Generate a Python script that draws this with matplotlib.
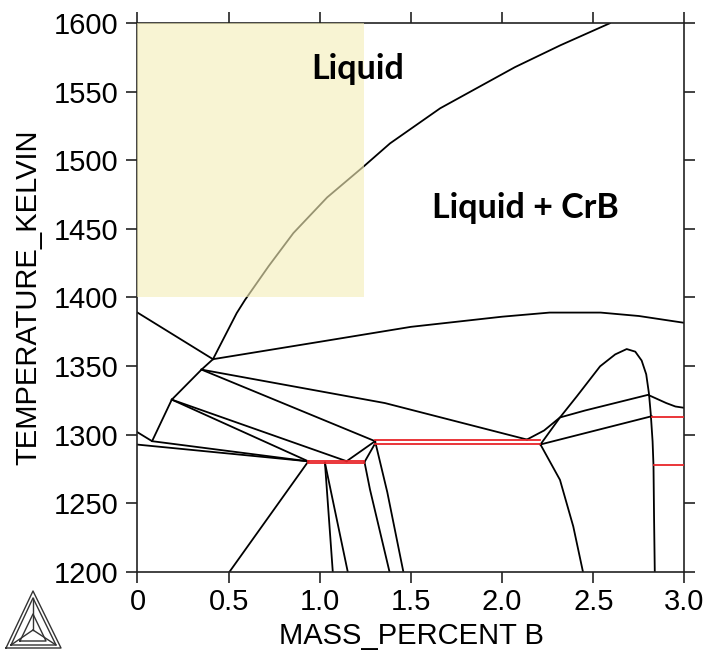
import matplotlib
matplotlib.use('Agg')
import matplotlib.pyplot as plt
from matplotlib.lines import Line2D
from matplotlib.patches import Rectangle

plt.rcParams['font.family'] = ['Liberation Sans', 'DejaVu Sans']

# ---- phase boundaries: mass percent B vs temperature (K) ----
# liquidus chain from left edge up to the top
liq_x = [0.0, 0.08, 0.188, 0.351, 0.414, 0.544, 0.59, 0.72, 0.855, 1.04, 1.239, 1.385, 1.66, 2.07, 2.32, 2.59]
liq_t = [1301.7, 1295.2, 1325.5, 1347.4, 1355, 1388.6, 1398.3, 1423, 1447, 1473, 1495.4, 1512.4, 1538, 1568, 1584, 1600]

top_left_x = [0.0, 0.414]
top_left_t = [1389, 1355]

upper_x = [0.414, 1.0, 1.5, 2.0, 2.26, 2.54, 2.75, 3.0]
upper_t = [1355, 1367.7, 1378.6, 1386, 1389, 1389, 1386.5, 1381.5]

p_long_x = [0.351, 1.357, 2.136]
p_long_t = [1347.4, 1323, 1296.4]
p_short_x = [0.351, 1.303]
p_short_t = [1347.4, 1295.2]

a1_x = [0.188, 0.937]
a1_t = [1325.5, 1280.5]
a2_x = [0.188, 1.147]
a2_t = [1325.5, 1280.6]

b1_x = [0.08, 0.937]
b1_t = [1295.2, 1280.5]
b2_x = [0.0, 0.937]
b2_t = [1292.7, 1280.5]

up1_x = [1.147, 1.303]
up1_t = [1280.6, 1295.2]
up2_x = [1.245, 1.303]
up2_t = [1280.0, 1293.5]

dn1_x = [1.028, 1.071]
dn1_t = [1279.5, 1200]
dn2_x = [1.028, 1.153]
dn2_t = [1279.5, 1200]
dn3_x = [1.245, 1.275, 1.382]
dn3_t = [1280.0, 1260, 1200]
dn4_x = [1.303, 1.37, 1.458]
dn4_t = [1295.2, 1258, 1200]
dn5_x = [0.937, 0.505]
dn5_t = [1280.5, 1200]
dn6_x = [2.21, 2.317, 2.39, 2.443]
dn6_t = [1292.8, 1267, 1233, 1200]

dome_x = [2.136, 2.23, 2.317, 2.41, 2.537, 2.62, 2.683, 2.73, 2.765, 2.79, 2.805,
          2.815, 2.825, 2.83, 2.833, 2.837]
dome_t = [1296.4, 1303, 1312.5, 1328, 1349.8, 1358.5, 1362.4, 1360.5, 1354, 1344, 1330,
          1315, 1295, 1277, 1240, 1200]

lb_x = [2.21, 2.26, 2.317, 2.455, 2.80, 2.90, 2.95, 3.0]
lb_t = [1292.8, 1302, 1312.5, 1317.6, 1329, 1323, 1320.5, 1319.5]
lc_x = [2.21, 2.82]
lc_t = [1292.8, 1313.4]

black_lines = [
    (liq_x, liq_t), (top_left_x, top_left_t), (upper_x, upper_t),
    (p_long_x, p_long_t), (p_short_x, p_short_t), (a1_x, a1_t), (a2_x, a2_t),
    (b1_x, b1_t), (b2_x, b2_t), (up1_x, up1_t), (up2_x, up2_t),
    (dn1_x, dn1_t), (dn2_x, dn2_t), (dn3_x, dn3_t), (dn4_x, dn4_t),
    (dn5_x, dn5_t), (dn6_x, dn6_t), (dome_x, dome_t), (lb_x, lb_t), (lc_x, lc_t),
]

# invariant (tie) lines in red: x start, x end, temperature
red_x0 = [0.937, 0.937, 1.303, 1.303, 2.82, 2.835]
red_x1 = [1.245, 1.245, 2.21, 2.21, 3.0, 3.0]
red_t = [1281.0, 1279.3, 1296.2, 1293.2, 1313.0, 1277.7]

fig = plt.figure(figsize=(7.04, 6.56), dpi=100)
ax = fig.add_axes([0.1953, 0.1285, 0.777, 0.836])

for xs, ts in black_lines:
    ax.plot(xs, ts, color='black', lw=1.3, zorder=2)

for x0, x1, t in zip(red_x0, red_x1, red_t):
    ax.plot([x0, x1], [t, t], color='#e8252a', lw=1.3, zorder=3)

ax.set_xlim(0, 3.0)
ax.set_ylim(1200, 1600)
ax.set_xticks([0, 0.5, 1.0, 1.5, 2.0, 2.5, 3.0])
ax.set_xticklabels(['0', '0.5', '1.0', '1.5', '2.0', '2.5', '3.0'])
ax.set_yticks(range(1200, 1601, 50))
ax.tick_params(direction='out', length=8, width=1.2, labelsize=21,
               top=True, right=True, color='#222222')
ax.tick_params(axis='y', pad=6)
ax.tick_params(axis='x', pad=4)
for s in ax.spines.values():
    s.set_linewidth(1.2)
    s.set_color('#222222')

ax.set_xlabel('MASS_PERCENT B', fontsize=21, labelpad=4)
ax.set_ylabel('TEMPERATURE_KELVIN', fontsize=21, labelpad=8)

# highlighted window
ax.add_patch(Rectangle((0, 1400), 1.24, 200, facecolor='#f5eeb8', edgecolor='none',
                       alpha=0.62, zorder=5, clip_on=False))

ax.text(1.205, 1567, 'Liquid', family='Lato', fontweight='bold', fontsize=24.5,
        ha='center', va='center', zorder=6)
ax.text(2.13, 1465, 'Liquid + CrB', family='Lato', fontweight='bold', fontsize=24.5,
        ha='center', va='center', zorder=6)

# Thermo-Calc style logo, in figure pixels
W, H = 704.0, 656.0
def px(pts):
    return [p[0] / W for p in pts], [1 - p[1] / H for p in pts]

outer = [(6, 648), (33, 591), (61, 648), (6, 648)]
inner = [(11, 645), (33, 598), (56, 645), (11, 645)]
core = [(20, 641), (33, 614), (46, 641), (20, 641)]
centre = (33, 630)
for tri in (outer, inner, core):
    xs, ys = px(tri)
    fig.add_artist(Line2D(xs, ys, color='#333333', lw=1.0))
for v in inner[:3]:
    xs, ys = px([v, centre])
    fig.add_artist(Line2D(xs, ys, color='#333333', lw=1.0))

fig.savefig('out.png', dpi=100)
